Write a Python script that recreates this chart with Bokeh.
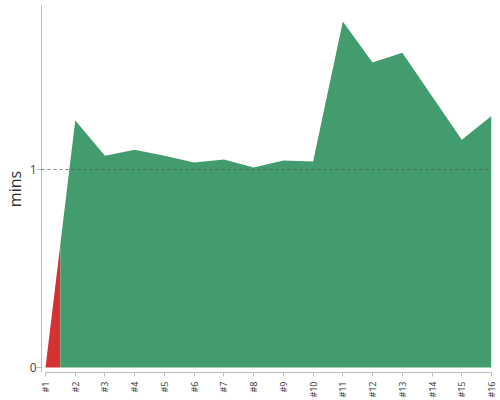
import math
from bokeh.plotting import figure
from bokeh.models import Range1d, FixedTicker, ColumnDataSource
from bokeh.embed import file_html
from bokeh.resources import INLINE

# ---- data ----
labels = ["#1", "#2", "#3", "#4", "#5", "#6", "#7", "#8",
          "#9", "#10", "#11", "#12", "#13", "#14", "#15", "#16"]
mins = [0.0, 1.247, 1.07, 1.10, 1.07, 1.035, 1.05, 1.01,
        1.045, 1.04, 1.747, 1.54, 1.59, 1.37, 1.15, 1.27]
threshold = 1.0

xs = list(range(1, len(labels) + 1))
mid_x = (xs[0] + xs[1]) / 2
mid_y = (mins[0] + mins[1]) / 2

GREEN = "#439c6d"
RED = "#d63234"
FONT = "Open Sans"

p = figure(output_backend="svg", toolbar_location=None,
           frame_width=450, frame_height=367,
           min_border_left=0, min_border_right=8, min_border_top=5, min_border_bottom=10,
           x_range=Range1d(0.865, 16.0), y_range=Range1d(-0.025, 1.828))
p.outline_line_color = None
p.background_fill_color = "white"

red_src = ColumnDataSource(dict(x=[xs[0], mid_x], y1=[0, 0], y2=[mins[0], mid_y]))
green_src = ColumnDataSource(dict(x=[mid_x] + xs[1:], y1=[0] * len(xs), y2=[mid_y] + mins[1:]))
p.varea(x="x", y1="y1", y2="y2", source=red_src, fill_color=RED)
p.varea(x="x", y1="y1", y2="y2", source=green_src, fill_color=GREEN)

# grid: only dashed line at threshold
p.xgrid.grid_line_color = None
p.ygrid.ticker = FixedTicker(ticks=[threshold])
p.ygrid.grid_line_color = "#555555"
p.ygrid.grid_line_dash = "3 3"
p.ygrid.grid_line_width = 0.7
p.ygrid.level = "overlay"

# x axis
xa = p.xaxis[0]
xa.ticker = FixedTicker(ticks=xs)
xa.major_label_overrides = {x: l for x, l in zip(xs, labels)}
xa.major_label_orientation = math.pi / 2
xa.major_label_text_font = FONT
xa.major_label_text_font_size = "9px"
xa.major_label_text_color = "#333333"
xa.axis_line_color = "#bbbbbb"
xa.major_tick_line_color = "#bbbbbb"
xa.major_tick_out = 4
xa.major_tick_in = 0
xa.minor_tick_line_color = None
xa.bounds = (1, 16)
xa.major_label_standoff = 5

# y axis
ya = p.yaxis[0]
ya.ticker = FixedTicker(ticks=[0, 1])
ya.axis_label = "mins"
ya.axis_label_text_font = FONT
ya.axis_label_text_font_size = "16px"
ya.axis_label_text_font_style = "normal"
ya.axis_label_text_color = "#333333"
ya.major_label_text_font = FONT
ya.major_label_text_font_size = "12px"
ya.major_label_text_color = "#444444"
ya.axis_line_color = "#bbbbbb"
ya.major_tick_line_color = "#bbbbbb"
ya.major_tick_out = 5
ya.major_tick_in = 0
ya.minor_tick_line_color = None
ya.major_label_standoff = 0
ya.axis_label_standoff = 1

open("out.html", "w").write(file_html(p, INLINE))
